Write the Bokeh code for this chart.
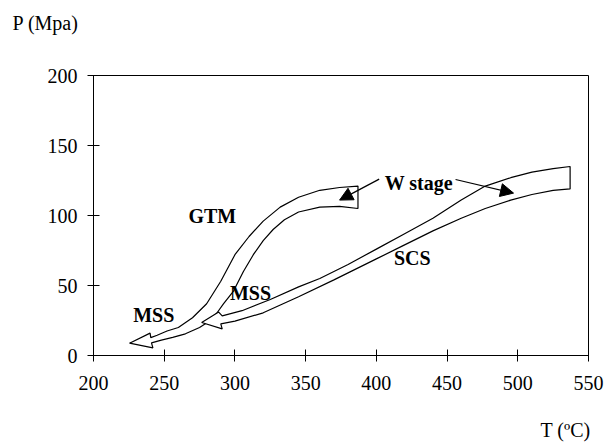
from bokeh.plotting import figure
from bokeh.models import Range1d, Label, Arrow, NormalHead, FixedTicker, Title
from bokeh.embed import file_html
from bokeh.resources import INLINE

# ---- data (T in degC, P in MPa) ----
x_ticks = [200, 250, 300, 350, 400, 450, 500, 550]
y_ticks = [0, 50, 100, 150, 200]

# GTM band: upper edge (right -> left), arrow head, lower edge (left -> right)
gtm_upper_t = [387, 374, 360, 345, 332, 320, 310, 300, 290, 280, 270, 260, 252, 245, 240.5]
gtm_upper_p = [121, 120, 118, 113, 106, 96, 85, 72, 53, 37, 27, 20, 17.5, 14.5, 12.8]
gtm_head_t = [240, 225.5, 242, 241]
gtm_head_p = [16, 8.8, 5.5, 9]
gtm_lower_t = [248, 256, 265, 275, 281, 287, 292, 299, 306, 313, 320, 327, 335, 345, 360, 374, 387]
gtm_lower_p = [11, 13, 15.5, 20, 24, 30, 37, 46, 60, 72, 82, 90, 97, 102.5, 106, 106.5, 105]

# SCS band
scs_upper_t = [537, 525, 510, 495, 477, 460, 440, 420, 400, 380, 360, 345, 325, 305, 291]
scs_upper_p = [135, 133.5, 131, 127, 121, 111, 98, 87, 76, 65, 55, 49, 40, 32, 28.3]
scs_head_t = [288.5, 276.5, 291, 290]
scs_head_p = [31, 23.6, 19, 22.6]
scs_lower_t = [300, 320, 345, 370, 400, 420, 440, 460, 477, 495, 510, 525, 537]
scs_lower_p = [24.5, 30.5, 42, 54, 69, 79, 89, 98, 105, 111, 115, 118, 119]

# "W stage" pointer arrows
w_start_t = [402, 456]
w_start_p = [126, 125.7]
w_end_t = [374, 497]
w_end_p = [111, 116]

# annotation texts
ann_text = ["GTM", "MSS", "MSS", "SCS", "W stage"]
ann_t = [284, 242.6, 311, 425.4, 430]
ann_p = [99.3, 28.9, 44.6, 69.6, 123]

serif = "Liberation Serif"

p = figure(width=606, height=447, output_backend="svg", toolbar_location=None,
           x_range=Range1d(200, 550), y_range=Range1d(0, 200),
           min_border_left=93, min_border_right=18, min_border_top=75,
           min_border_bottom=92)
p.background_fill_color = "white"
p.border_fill_color = "white"
p.outline_line_color = "black"
p.outline_line_width = 1
p.xgrid.visible = False
p.ygrid.visible = False

# spacer between frame and the y-axis title (kept in the above panel)
p.add_layout(Title(text=" ", standoff=16, text_font=serif,
                   text_font_size="20px"), "above")
# axis titles
p.title.text = "P (Mpa)"
p.title.align = "left"
p.title.vertical_align = "top"
p.title.offset = -81
p.title.standoff = 0
p.title.text_font = serif
p.title.text_font_style = "normal"
p.title.text_font_size = "20px"
p.title.text_color = "black"

p.add_layout(Title(text=" ", standoff=2, text_font=serif,
                   text_font_size="20px"), "below")
p.add_layout(Title(text="T (ºC)", align="right", vertical_align="top", offset=-2,
                   standoff=0, text_font=serif, text_font_style="normal",
                   text_font_size="20px", text_color="black"), "below")

for ax, ticks in ((p.xaxis, x_ticks), (p.yaxis, y_ticks)):
    ax.ticker = FixedTicker(ticks=ticks)
    ax.major_tick_in = 6
    ax.major_tick_out = 6
    ax.minor_tick_line_color = None
    ax.axis_line_color = "black"
    ax.major_tick_line_color = "black"
    ax.major_label_text_font = serif
    ax.major_label_text_font_size = "20px"
    ax.major_label_text_color = "black"
p.xaxis.major_label_standoff = 14
p.yaxis.major_label_standoff = 10

# bands
p.patch(gtm_upper_t + gtm_head_t + gtm_lower_t,
        gtm_upper_p + gtm_head_p + gtm_lower_p,
        fill_color="white", line_color="black", line_width=1.2)
p.patch(scs_upper_t + scs_head_t + scs_lower_t,
        scs_upper_p + scs_head_p + scs_lower_p,
        fill_color="white", line_color="black", line_width=1.2)

for x0, y0, x1, y1 in zip(w_start_t, w_start_p, w_end_t, w_end_p):
    p.add_layout(Arrow(end=NormalHead(size=13, fill_color="black", line_color="black"),
                       x_start=x0, y_start=y0, x_end=x1, y_end=y1,
                       line_color="black", line_width=1.2))

for txt, t, pv in zip(ann_text, ann_t, ann_p):
    p.add_layout(Label(x=t, y=pv, text=txt, text_font=serif, text_font_style="bold",
                       text_font_size="20px", text_align="center",
                       text_baseline="middle", text_color="black"))

open("out.html", "w").write(file_html(p, INLINE))
